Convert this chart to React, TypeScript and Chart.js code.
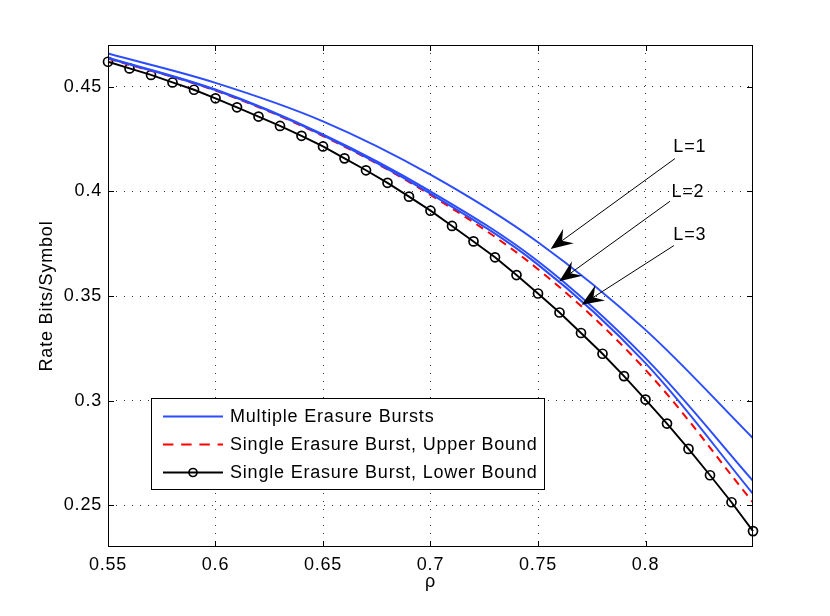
import React, { useEffect, useRef } from 'react';
import { Chart, registerables } from 'chart.js';

Chart.register(...registerables);

// rho sampled every 0.01 for the lower bound (markers)
const rho = [
  0.55, 0.56, 0.57, 0.58, 0.59, 0.6, 0.61, 0.62, 0.63, 0.64, 0.65,
  0.66, 0.67, 0.68, 0.69, 0.7, 0.71, 0.72, 0.73, 0.74, 0.75,
  0.76, 0.77, 0.78, 0.79, 0.8, 0.81, 0.82, 0.83, 0.84, 0.85,
];
const lowerBound = [
  0.462, 0.4588, 0.4557, 0.4521, 0.4486, 0.4445, 0.4402, 0.4358, 0.4313, 0.4266, 0.4215,
  0.4158, 0.4101, 0.4041, 0.3975, 0.3908, 0.3835, 0.3761, 0.3685, 0.36, 0.3512,
  0.3421, 0.3323, 0.3224, 0.3117, 0.3005, 0.289, 0.2769, 0.2643, 0.2514, 0.2376,
];

// smooth curves, read every 0.05
const rhoCoarse = [0.55, 0.6, 0.65, 0.7, 0.75, 0.8, 0.85];
const multiL1 = [0.4659, 0.4519, 0.4335, 0.408, 0.3757, 0.3338, 0.282];
const multiL2 = [0.4639, 0.4487, 0.4272, 0.4, 0.3666, 0.3203, 0.2616];
const multiL3 = [0.4637, 0.4484, 0.4268, 0.3989, 0.365, 0.3179, 0.2554];
const upperBound = [0.4635, 0.4482, 0.4265, 0.3983, 0.3628, 0.3147, 0.2513];

const xTicks = [0.55, 0.6, 0.65, 0.7, 0.75, 0.8];
const xTickLabels = ['0.55', '0.6', '0.65', '0.7', '0.75', '0.8'];
const yTicks = [0.25, 0.3, 0.35, 0.4, 0.45];
const yTickLabels = ['0.25', '0.3', '0.35', '0.4', '0.45'];

const arrowNotes = [
  { text: 'L=1', at: [0.8206, 0.421], from: [0.8137, 0.4157], to: [0.7559, 0.3725] },
  { text: 'L=2', at: [0.8197, 0.3999], from: [0.8114, 0.3953], to: [0.7599, 0.357] },
  { text: 'L=3', at: [0.8206, 0.3793], from: [0.8132, 0.3741], to: [0.7703, 0.3458] },
];

const FONT = '"Liberation Sans", Arial, Helvetica, sans-serif';
const FS = 18;
const SPACING = '0.8px';
const BLUE = '#2b4cff';

const pts = (xs: number[], ys: number[]) => xs.map((x, i) => ({ x, y: ys[i] }));

function drawArrow(ctx: CanvasRenderingContext2D, x0: number, y0: number, x1: number, y1: number) {
  const dx = x1 - x0;
  const dy = y1 - y0;
  const len = Math.hypot(dx, dy);
  const ux = dx / len;
  const uy = dy / len;
  const px = -uy;
  const py = ux;
  const headLen = 22;
  const half = 9;
  const notch = 14;
  const bx = x1 - ux * headLen;
  const by = y1 - uy * headLen;
  const nx = x1 - ux * notch;
  const ny = y1 - uy * notch;
  ctx.beginPath();
  ctx.moveTo(x0, y0);
  ctx.lineTo(nx, ny);
  ctx.stroke();
  ctx.beginPath();
  ctx.moveTo(x1, y1);
  ctx.lineTo(bx + px * half, by + py * half);
  ctx.lineTo(nx, ny);
  ctx.lineTo(bx - px * half, by - py * half);
  ctx.closePath();
  ctx.fill();
}

// MATLAB's text looks a little wider than Arial, so add some spacing
const spacing = {
  id: 'textSpacing',
  beforeUpdate(chart: any) {
    chart.ctx.letterSpacing = SPACING;
  },
  beforeDraw(chart: any) {
    chart.ctx.letterSpacing = SPACING;
  },
};

const decor = {
  id: 'matlabDecor',
  afterDatasetsDraw(chart: any) {
    const { ctx, chartArea } = chart;
    const { left, right, top, bottom } = chartArea;
    const xs = chart.scales.x;
    const ys = chart.scales.y;
    ctx.save();

    // frame + inward ticks
    ctx.strokeStyle = '#000';
    ctx.lineWidth = 1;
    ctx.setLineDash([]);
    ctx.strokeRect(left + 0.5, top + 0.5, right - left - 1, bottom - top - 1);
    ctx.beginPath();
    xTicks.forEach((v) => {
      const x = Math.round(xs.getPixelForValue(v)) + 0.5;
      ctx.moveTo(x, bottom);
      ctx.lineTo(x, bottom - 6);
      ctx.moveTo(x, top);
      ctx.lineTo(x, top + 6);
    });
    yTicks.forEach((v) => {
      const y = Math.round(ys.getPixelForValue(v)) + 0.5;
      ctx.moveTo(left, y);
      ctx.lineTo(left + 6, y);
      ctx.moveTo(right, y);
      ctx.lineTo(right - 6, y);
    });
    ctx.stroke();

    // arrows with labels
    ctx.fillStyle = '#000';
    ctx.lineWidth = 1;
    ctx.font = `${FS}px ${FONT}`;
    ctx.textAlign = 'center';
    ctx.textBaseline = 'middle';
    arrowNotes.forEach((n) => {
      drawArrow(
        ctx,
        xs.getPixelForValue(n.from[0]),
        ys.getPixelForValue(n.from[1]),
        xs.getPixelForValue(n.to[0]),
        ys.getPixelForValue(n.to[1])
      );
      ctx.fillText(n.text, xs.getPixelForValue(n.at[0]), ys.getPixelForValue(n.at[1]));
    });

    // legend box
    const entries = [0, 3, 4];
    const bx = left + 43;
    const by = top + 353;
    const bw = 393;
    const bh = 91;
    ctx.fillStyle = '#fff';
    ctx.fillRect(bx, by, bw, bh);
    ctx.strokeStyle = '#000';
    ctx.strokeRect(bx + 0.5, by + 0.5, bw, bh);
    ctx.textAlign = 'left';
    entries.forEach((di, i) => {
      const ds = chart.data.datasets[di];
      const y = by + 18.5 + i * 28;
      ctx.strokeStyle = ds.borderColor;
      ctx.lineWidth = ds.borderWidth;
      ctx.setLineDash((ds.borderDash || []).map((d: number) => d * 1.3));
      ctx.beginPath();
      ctx.moveTo(bx + 12, y);
      ctx.lineTo(bx + 72, y);
      ctx.stroke();
      ctx.setLineDash([]);
      if (ds.pointRadius > 0) {
        ctx.lineWidth = ds.pointBorderWidth;
        ctx.beginPath();
        ctx.arc(bx + 42, y, ds.pointRadius - 0.5, 0, Math.PI * 2);
        ctx.stroke();
      }
      ctx.fillStyle = '#000';
      ctx.fillText(ds.label, bx + 79, y + 1);
    });
    ctx.restore();
  },
};

export default function App() {
  const canvasRef = useRef<HTMLCanvasElement | null>(null);
  const chartRef = useRef<Chart | null>(null);

  useEffect(() => {
    const ctx = canvasRef.current?.getContext('2d');
    if (!ctx) return;
    const curve = (label: string, data: number[], color: string, dash?: number[]) => ({
      label,
      data: pts(rhoCoarse, data),
      borderColor: color,
      borderWidth: 2,
      borderDash: dash,
      pointRadius: 0,
      tension: 0.35,
      fill: false,
    });
    chartRef.current = new Chart(ctx, {
      type: 'line',
      data: {
        datasets: [
          curve('Multiple Erasure Bursts', multiL1, BLUE),
          curve('Multiple Erasure Bursts', multiL2, BLUE),
          curve('Multiple Erasure Bursts', multiL3, BLUE),
          curve('Single Erasure Burst, Upper Bound', upperBound, '#ff0000', [8, 6]),
          {
            label: 'Single Erasure Burst, Lower Bound',
            data: pts(rho, lowerBound),
            borderColor: '#000',
            borderWidth: 1.9,
            pointRadius: 4.5,
            pointBorderWidth: 1.7,
            pointBorderColor: '#000',
            pointBackgroundColor: 'rgba(0,0,0,0)',
            pointStyle: 'circle',
            tension: 0,
            fill: false,
            clip: false,
          },
        ],
      },
      options: {
        animation: false,
        responsive: false,
        devicePixelRatio: 1,
        events: [],
        layout: { padding: { left: 0, top: 45, right: 77, bottom: 0 } },
        plugins: { legend: { display: false }, tooltip: { enabled: false } },
        scales: {
          x: {
            type: 'linear',
            min: 0.55,
            max: 0.85,
            afterBuildTicks: (s: any) => {
              s.ticks = xTicks.map((value) => ({ value }));
            },
            afterFit: (s: any) => {
              s.height = 69;
            },
            grid: { color: 'rgba(0,0,0,0.8)', lineWidth: 1, drawTicks: false },
            border: { display: false, dash: [1, 7] },
            ticks: {
              padding: 7,
              color: '#000',
              font: { family: FONT, size: FS },
              maxRotation: 0,
              autoSkip: false,
              callback: (v: any) => xTickLabels[xTicks.indexOf(Number(v))] ?? '',
            },
            title: {
              display: true,
              text: 'ρ',
              color: '#000',
              font: { family: FONT, size: FS },
              padding: { top: 0, bottom: 23 },
            },
          },
          y: {
            type: 'linear',
            min: 0.23,
            max: 0.47,
            afterBuildTicks: (s: any) => {
              s.ticks = yTicks.map((value) => ({ value }));
            },
            afterFit: (s: any) => {
              s.width = 108;
            },
            grid: { color: 'rgba(0,0,0,0.8)', lineWidth: 1, drawTicks: false },
            border: { display: false, dash: [1, 7] },
            ticks: {
              padding: 6,
              color: '#000',
              font: { family: FONT, size: FS },
              autoSkip: false,
              callback: (v: any) => yTickLabels[yTicks.indexOf(Number(v))] ?? '',
            },
            title: {
              display: true,
              text: 'Rate Bits/Symbol',
              color: '#000',
              font: { family: FONT, size: FS },
              padding: { top: 36, bottom: 0 },
            },
          },
        },
      },
      plugins: [spacing, decor],
    });
    return () => {
      chartRef.current?.destroy();
    };
  }, []);

  return (
    <div style={{ position: 'absolute', left: 0, top: 0, width: 830, height: 616, background: '#fff' }}>
      <canvas ref={canvasRef} width={830} height={616} />
    </div>
  );
}
